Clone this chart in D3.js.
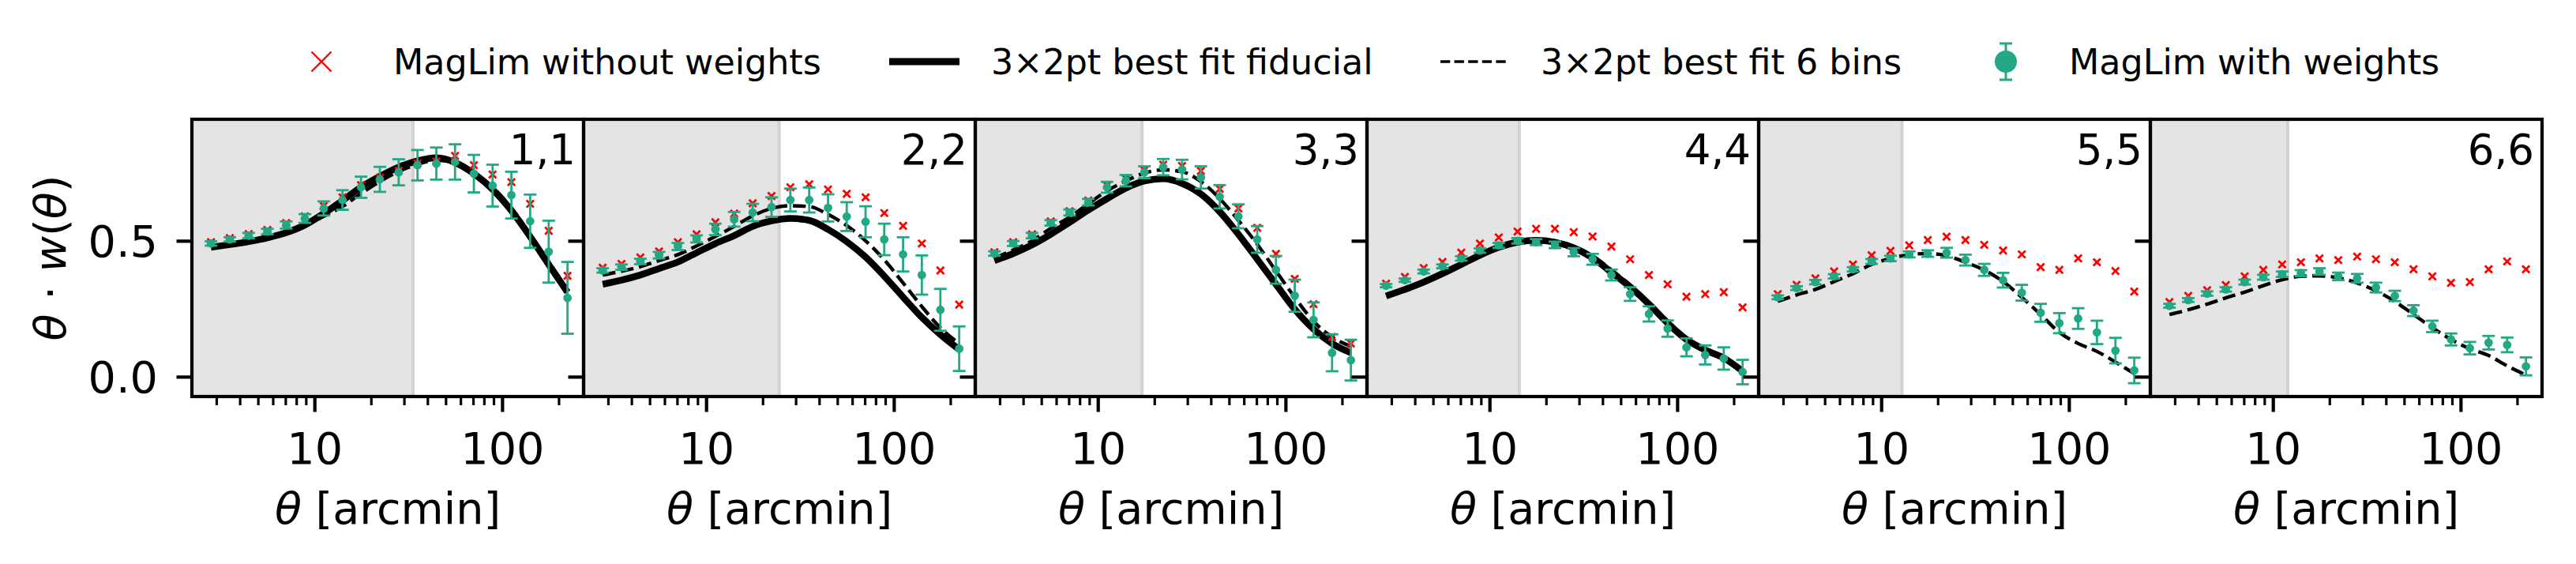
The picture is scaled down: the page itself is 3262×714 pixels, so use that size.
<!DOCTYPE html>
<html>
<head>
<meta charset="utf-8">
<script src="https://cdn.jsdelivr.net/npm/d3@7"></script>
<style>
  html, body { margin: 0; padding: 0; background: #ffffff; }
  svg { display: block; font-family: "DejaVu Sans", sans-serif; }
</style>
</head>
<body>
<script>
// ---------------- DATA ----------------
const binLabels = ["1,1", "2,2", "3,3", "4,4", "5,5", "6,6"];
const theta = [2.81, 3.54, 4.46, 5.61, 7.07, 8.89, 11.2, 14.1, 17.7, 22.3,
               28.1, 35.4, 44.6, 56.1, 70.7, 88.9, 112, 141, 177, 223];
const scaleCuts = [33.5, 24.5, 17.2, 14.4, 12.9, 12.0];
const xMajorTicks = [10, 100];
const xMinorTicks = [3, 4, 5, 6, 7, 8, 9, 20, 30, 40, 50, 60, 70, 80, 90, 200];
const yTicks = [0.0, 0.5];

// MagLim with weights (theta * w(theta))
const withWeights = [
  [0.490,0.505,0.519,0.534,0.558,0.582,0.619,0.650,0.697,0.726,0.752,0.778,0.784,0.790,0.747,0.703,0.668,0.572,0.460,0.290],
  [0.391,0.403,0.424,0.447,0.479,0.507,0.542,0.579,0.604,0.624,0.650,0.650,0.621,0.589,0.570,0.505,0.450,0.374,0.246,0.103],
  [0.453,0.490,0.519,0.566,0.604,0.642,0.697,0.721,0.752,0.771,0.762,0.733,0.662,0.590,0.505,0.393,0.298,0.209,0.088,0.061],
  [0.335,0.355,0.387,0.406,0.435,0.464,0.483,0.500,0.495,0.485,0.458,0.432,0.374,0.304,0.231,0.177,0.108,0.080,0.067,0.017],
  [0.292,0.326,0.348,0.369,0.395,0.424,0.435,0.450,0.453,0.456,0.429,0.393,0.355,0.309,0.235,0.197,0.214,0.163,0.096,0.023],
  [0.261,0.282,0.306,0.321,0.348,0.366,0.377,0.381,0.387,0.369,0.362,0.328,0.297,0.243,0.185,0.137,0.105,0.125,0.117,0.038]
];
const withWeightsErr = [
  [0.008,0.008,0.010,0.010,0.013,0.016,0.026,0.036,0.039,0.046,0.048,0.056,0.059,0.065,0.069,0.077,0.086,0.098,0.114,0.132],
  [0.008,0.010,0.010,0.012,0.013,0.013,0.021,0.027,0.032,0.036,0.042,0.046,0.050,0.053,0.057,0.058,0.063,0.072,0.077,0.082],
  [0.008,0.009,0.010,0.010,0.011,0.012,0.020,0.021,0.022,0.030,0.036,0.041,0.043,0.044,0.049,0.051,0.059,0.064,0.068,0.075],
  [0.006,0.006,0.007,0.007,0.008,0.008,0.009,0.010,0.011,0.012,0.015,0.020,0.020,0.025,0.028,0.030,0.033,0.035,0.041,0.045],
  [0.007,0.007,0.008,0.008,0.008,0.009,0.010,0.011,0.012,0.018,0.020,0.022,0.027,0.029,0.033,0.037,0.038,0.043,0.047,0.047],
  [0.007,0.007,0.008,0.008,0.009,0.009,0.010,0.011,0.012,0.014,0.016,0.018,0.019,0.020,0.021,0.022,0.023,0.025,0.027,0.033]
];
// MagLim without weights
const withoutWeights = [
  [0.495,0.510,0.525,0.540,0.565,0.590,0.628,0.660,0.705,0.732,0.758,0.785,0.792,0.812,0.778,0.744,0.716,0.636,0.537,0.371],
  [0.401,0.415,0.439,0.461,0.495,0.524,0.568,0.600,0.638,0.665,0.697,0.708,0.689,0.673,0.660,0.602,0.555,0.490,0.391,0.265],
  [0.458,0.495,0.524,0.571,0.609,0.648,0.703,0.728,0.760,0.780,0.775,0.757,0.691,0.619,0.548,0.452,0.360,0.267,0.146,0.122],
  [0.342,0.367,0.400,0.422,0.456,0.490,0.512,0.534,0.544,0.544,0.532,0.516,0.479,0.432,0.374,0.340,0.294,0.304,0.311,0.255],
  [0.304,0.338,0.362,0.387,0.413,0.447,0.463,0.483,0.503,0.515,0.503,0.485,0.464,0.450,0.403,0.393,0.435,0.421,0.389,0.313],
  [0.275,0.297,0.318,0.337,0.369,0.393,0.413,0.421,0.435,0.429,0.442,0.432,0.421,0.395,0.369,0.345,0.348,0.395,0.424,0.395]
];
// 3x2pt best fit fiducial (only bins 1-4)
const fitFiducial = [
  [0.476,0.486,0.497,0.511,0.530,0.558,0.600,0.648,0.697,0.737,0.771,0.794,0.805,0.788,0.747,0.689,0.611,0.515,0.413,0.311],
  [0.340,0.355,0.374,0.398,0.422,0.456,0.490,0.519,0.553,0.573,0.582,0.575,0.542,0.497,0.440,0.370,0.293,0.218,0.155,0.100],
  [0.427,0.453,0.485,0.524,0.568,0.613,0.655,0.694,0.720,0.728,0.711,0.672,0.607,0.524,0.432,0.340,0.248,0.175,0.122,0.088],
  [0.297,0.321,0.348,0.379,0.413,0.447,0.476,0.495,0.502,0.495,0.474,0.437,0.384,0.330,0.267,0.197,0.137,0.098,0.069,0.020],
  null,
  null
];
// 3x2pt best fit 6 bins
const fitSixBins = [
  [0.480,0.490,0.501,0.514,0.530,0.554,0.590,0.626,0.674,0.718,0.755,0.781,0.796,0.790,0.752,0.697,0.621,0.524,0.423,0.319],
  [0.374,0.388,0.405,0.427,0.449,0.481,0.516,0.553,0.592,0.619,0.629,0.626,0.597,0.556,0.500,0.430,0.345,0.258,0.180,0.122],
  [0.437,0.466,0.500,0.546,0.587,0.636,0.684,0.720,0.749,0.761,0.754,0.718,0.655,0.575,0.487,0.389,0.292,0.204,0.146,0.112],
  [0.300,0.325,0.352,0.383,0.418,0.451,0.480,0.499,0.505,0.499,0.480,0.445,0.393,0.338,0.274,0.205,0.143,0.103,0.072,0.024],
  [0.277,0.301,0.321,0.350,0.379,0.413,0.435,0.449,0.453,0.445,0.421,0.392,0.350,0.292,0.229,0.163,0.122,0.093,0.054,0.011],
  [0.229,0.246,0.267,0.290,0.311,0.335,0.357,0.369,0.371,0.364,0.345,0.316,0.277,0.229,0.180,0.137,0.103,0.078,0.040,0.006]
];
const legendLabels = ["MagLim without weights", "3\u00d72pt best fit fiducial", "3\u00d72pt best fit 6 bins", "MagLim with weights"];

// ---------------- LAYOUT / STYLE ----------------
const W = 3262, H = 714;
const panelLeft = 243, panelW = 496, panelTop = 151, panelBottom = 502;
const GREEN = "#22a884", RED = "#ff0000", SHADE = "#e4e4e4", CUTLINE = "#d2d2d2";
const FONT = 55.6, LEGFONT = 44.4;

const svg = d3.select("body").append("svg").attr("width", W).attr("height", H);
svg.append("rect").attr("width", W).attr("height", H).attr("fill", "#fff");

const y = d3.scaleLinear().domain([-0.073, 0.947]).range([panelBottom, panelTop]);

const panels = binLabels.map((lab, i) => {
  const x0 = panelLeft + i * panelW;
  const x = d3.scaleLog().domain([2.223, 271.6]).range([x0, x0 + panelW]);
  return { i, lab, x0, x };
});

// ---- panel contents ----
panels.forEach(p => {
  const { i, x, x0 } = p;
  const g = svg.append("g");
  // scale-cut shading
  g.append("rect").attr("x", x0).attr("y", panelTop)
    .attr("width", x(scaleCuts[i]) - x0).attr("height", panelBottom - panelTop)
    .attr("fill", SHADE);
  g.append("line").attr("x1", x(scaleCuts[i])).attr("x2", x(scaleCuts[i]))
    .attr("y1", panelTop).attr("y2", panelBottom)
    .attr("stroke", CUTLINE).attr("stroke-width", 4);

  const line = d3.line().x(d => x(d[0])).y(d => y(d[1])).curve(d3.curveMonotoneX);

  if (fitFiducial[i]) {
    g.append("path").attr("d", line(theta.map((t, k) => [t, fitFiducial[i][k]])))
      .attr("fill", "none").attr("stroke", "#000").attr("stroke-width", 8.5)
      .attr("stroke-linejoin", "round");
  }
  g.append("path").attr("d", line(theta.map((t, k) => [t, fitSixBins[i][k]])))
    .attr("fill", "none").attr("stroke", "#000").attr("stroke-width", 4.4)
    .attr("stroke-dasharray", "16.4,7.1");

  // red x markers
  g.selectAll(".rx").data(theta.map((t, k) => [t, withoutWeights[i][k]])).join("path")
    .attr("transform", d => `translate(${x(d[0])},${y(d[1])})`)
    .attr("d", "M-4.6,-4.6L4.6,4.6M-4.6,4.6L4.6,-4.6")
    .attr("stroke", RED).attr("stroke-width", 2.8).attr("fill", "none");

  // green error bars + points
  const pts = theta.map((t, k) => ({ t, v: withWeights[i][k], e: withWeightsErr[i][k] }));
  const eg = g.append("g").attr("stroke", GREEN).attr("stroke-width", 2.8);
  eg.selectAll(".eb").data(pts).join("line")
    .attr("x1", d => x(d.t)).attr("x2", d => x(d.t))
    .attr("y1", d => y(d.v - d.e)).attr("y2", d => y(d.v + d.e));
  eg.selectAll(".capL").data(pts).join("line")
    .attr("x1", d => x(d.t) - 8).attr("x2", d => x(d.t) + 8)
    .attr("y1", d => y(d.v - d.e)).attr("y2", d => y(d.v - d.e));
  eg.selectAll(".capU").data(pts).join("line")
    .attr("x1", d => x(d.t) - 8).attr("x2", d => x(d.t) + 8)
    .attr("y1", d => y(d.v + d.e)).attr("y2", d => y(d.v + d.e));
  g.selectAll(".pt").data(pts).join("circle")
    .attr("cx", d => x(d.t)).attr("cy", d => y(d.v)).attr("r", 5.4)
    .attr("fill", GREEN);

  // bin label
  g.append("text").attr("x", x0 + panelW - 10).attr("y", 208)
    .attr("text-anchor", "end").attr("font-size", 53).attr("fill", "#000")
    .text(p.lab);
});

// ---- axes (drawn above all contents) ----
panels.forEach(p => {
  const { i, x, x0 } = p;
  const g = svg.append("g");
  g.append("rect").attr("x", x0).attr("y", panelTop).attr("width", panelW)
    .attr("height", panelBottom - panelTop)
    .attr("fill", "none").attr("stroke", "#000").attr("stroke-width", 4.2);

  const xMaj = g.append("g").attr("transform", `translate(0,${panelBottom})`)
    .call(d3.axisBottom(x).tickValues(xMajorTicks).tickSize(19.5).tickPadding(26)
      .tickFormat(d3.format("d")));
  const xMin = g.append("g").attr("transform", `translate(0,${panelBottom})`)
    .call(d3.axisBottom(x).tickValues(xMinorTicks).tickSize(11).tickFormat(""));
  xMaj.select(".domain").remove();
  xMin.select(".domain").remove();
  xMaj.selectAll(".tick line").attr("stroke-width", 4.2);
  xMin.selectAll(".tick line").attr("stroke-width", 3.2);
  xMaj.selectAll(".tick text").attr("font-size", FONT).attr("font-family", "DejaVu Sans").attr("fill", "#000");

  const yAx = d3.axisLeft(y).tickValues(yTicks).tickSize(19.5).tickPadding(23.5)
    .tickFormat(i === 0 ? d3.format(".1f") : () => "");
  const ya = g.append("g").attr("transform", `translate(${x0},0)`).call(yAx);
  ya.select(".domain").remove();
  ya.selectAll(".tick line").attr("stroke-width", 4.2);
  ya.selectAll(".tick text").attr("font-size", FONT).attr("font-family", "DejaVu Sans")
    .attr("fill", "#000").attr("dy", "0.36em");

  // x label
  const xl = g.append("text").attr("x", x0 + panelW / 2).attr("y", 663)
    .attr("text-anchor", "middle").attr("font-size", FONT);
  xl.append("tspan").attr("font-style", "italic").text("\u03b8");
  xl.append("tspan").text(" [arcmin]");
});

// y label
const yl = svg.append("text").attr("transform", `translate(83,${(panelTop + panelBottom) / 2}) rotate(-90)`)
  .attr("text-anchor", "middle").attr("font-size", FONT);
yl.append("tspan").attr("font-style", "italic").text("\u03b8");
yl.append("tspan").text(" \u00b7 ");
yl.append("tspan").attr("font-style", "italic").text("w");
yl.append("tspan").text("(");
yl.append("tspan").attr("font-style", "italic").text("\u03b8");
yl.append("tspan").text(")");

// ---- legend ----
const legY = 78;
const leg = svg.append("g");
// item 1: red x
leg.append("path").attr("transform", `translate(407,${legY})`)
  .attr("d", "M-12.5,-12.5L12.5,12.5M-12.5,12.5L12.5,-12.5")
  .attr("stroke", RED).attr("stroke-width", 2.4).attr("fill", "none");
// item 2: solid line
leg.append("line").attr("x1", 1126).attr("x2", 1215).attr("y1", legY).attr("y2", legY)
  .attr("stroke", "#000").attr("stroke-width", 9);
// item 3: dashed line
leg.append("line").attr("x1", 1824).attr("x2", 1912).attr("y1", legY).attr("y2", legY)
  .attr("stroke", "#000").attr("stroke-width", 3.4).attr("stroke-dasharray", "12.3,5.3");
// item 4: green errorbar marker
const lg = leg.append("g").attr("stroke", GREEN).attr("stroke-width", 3);
lg.append("line").attr("x1", 2540).attr("x2", 2540).attr("y1", 55).attr("y2", 101);
lg.append("line").attr("x1", 2532).attr("x2", 2548).attr("y1", 55).attr("y2", 55);
lg.append("line").attr("x1", 2532).attr("x2", 2548).attr("y1", 101).attr("y2", 101);
leg.append("circle").attr("cx", 2540).attr("cy", legY).attr("r", 14).attr("fill", GREEN);

const legTextX = [498, 1255, 1951, 2620];
legendLabels.forEach((t, k) => {
  leg.append("text").attr("x", legTextX[k]).attr("y", 94).attr("font-size", LEGFONT)
    .attr("fill", "#000").text(t);
});
</script>
</body>
</html>
